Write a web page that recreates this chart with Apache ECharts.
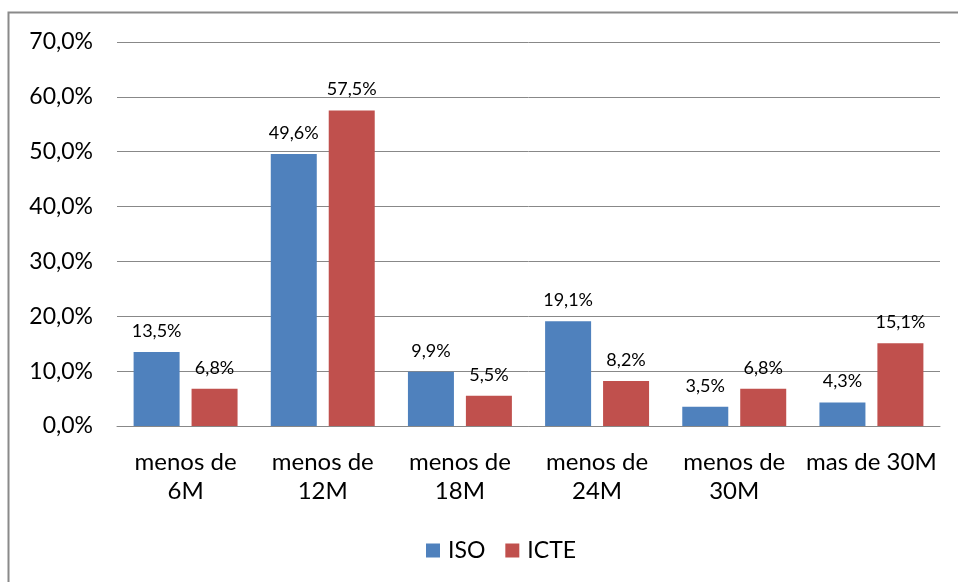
<!DOCTYPE html>
<html>
<head>
<meta charset="utf-8">
<script src="https://cdn.jsdelivr.net/npm/echarts@6/dist/echarts.min.js"></script>
<style>
  html, body { margin: 0; padding: 0; background: #fff; }
  #chart { width: 958px; height: 582px; }
</style>
</head>
<body>
<div id="chart"></div>
<script>
const categories = ['menos de\n6M', 'menos de\n12M', 'menos de\n18M', 'menos de\n24M', 'menos de\n30M', 'mas de 30M'];
const seriesNames = ['ISO', 'ICTE'];
const isoValues = [13.5, 49.6, 9.9, 19.1, 3.5, 4.3];
const icteValues = [6.8, 57.5, 5.5, 8.2, 6.8, 15.1];

const fmt = v => v.toFixed(1).replace('.', ',') + '%';
const font = 'Lato, "Open Sans", sans-serif';

const chart = echarts.init(document.getElementById('chart'));

const labelStyle = {
  show: true,
  position: 'top',
  distance: 12,
  color: '#000',
  fontSize: 18,
  fontFamily: font,
  formatter: p => fmt(p.value)
};

chart.setOption({
  animation: false,
  textStyle: { fontFamily: font },
  graphic: [{
    type: 'rect',
    shape: { x: 8.5, y: 12.5, width: 1000, height: 1000 },
    style: { fill: 'none', stroke: '#8a8a8a', lineWidth: 2 },
    silent: true
  }],
  grid: { left: 117, right: 18, top: 42, bottom: 156 },
  legend: {
    bottom: 15,
    left: 421,
    itemWidth: 14,
    itemHeight: 14,
    itemGap: 20,
    icon: 'rect',
    textStyle: { fontSize: 23, color: '#000', fontFamily: font, padding: [0, 0, 0, 3] }
  },
  xAxis: {
    type: 'category',
    data: categories,
    axisLine: { lineStyle: { color: '#888', width: 1 } },
    axisTick: { show: false },
    axisLabel: {
      color: '#000',
      fontSize: 24,
      lineHeight: 29,
      margin: 22,
      interval: 0,
      fontFamily: font
    }
  },
  yAxis: {
    type: 'value',
    min: 0,
    max: 70,
    interval: 10,
    axisLine: { show: false },
    axisTick: { show: false },
    splitLine: { lineStyle: { color: '#888', width: 1 } },
    axisLabel: {
      color: '#000',
      fontSize: 23,
      margin: 24,
      fontFamily: font,
      formatter: v => v.toFixed(1).replace('.', ',') + '%'
    }
  },
  series: [
    {
      name: seriesNames[0],
      type: 'bar',
      data: isoValues,
      barWidth: 46,
      barGap: '26%',
      itemStyle: { color: '#4F81BD' },
      label: labelStyle
    },
    {
      name: seriesNames[1],
      type: 'bar',
      data: icteValues,
      barWidth: 46,
      itemStyle: { color: '#C0504D' },
      label: labelStyle
    }
  ]
});
</script>
</body>
</html>
